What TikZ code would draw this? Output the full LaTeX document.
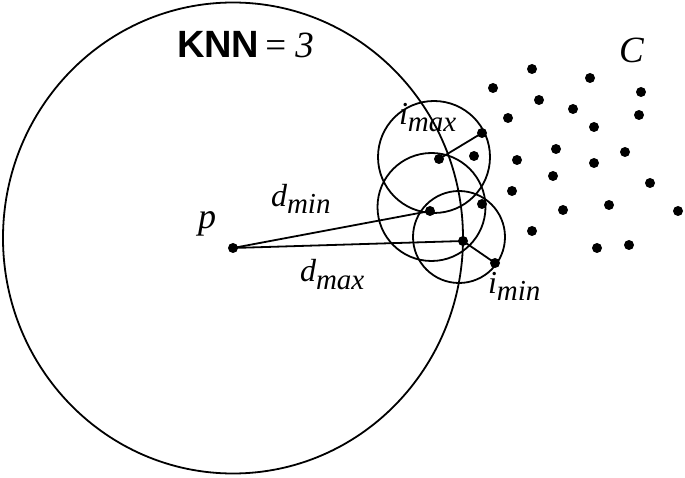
\documentclass[tikz,border=0pt]{standalone}
\usepackage{fontspec}
\setmainfont{Liberation Serif}
\newfontfamily\knnsans{Liberation Sans}
\newcommand{\sublbl}[2]{{\fontsize{32}{32}\selectfont\itshape #1}\raisebox{-7pt}{\fontsize{29}{29}\selectfont\itshape #2}}
\tikzset{
  pt/.style={circle, fill=black, draw=none, inner sep=0pt, minimum size=10pt},
  ring/.style={line width=1.8pt},
  conn/.style={line width=1.8pt},
  lbl/.style={anchor=base west, inner sep=0pt, outer sep=0pt},
}
\begin{document}
\begin{tikzpicture}[x=1pt, y=-1pt]
\useasboundingbox (0,0) rectangle (685,478);
% big neighbourhood circle
\draw[ring] (233,238) ellipse [x radius=230pt, y radius=235.5pt];
% small circles
\draw[ring] (434,157) circle [radius=56pt];
\draw[ring] (431.5,207) circle [radius=54pt];
\draw[ring] (459,237) circle [radius=46pt];
% points
\node[pt] (p) at (233,248) {};
\node[pt] (q1) at (439,159) {};
\node[pt] (q2) at (482,133) {};
\node[pt] (q3) at (474,156) {};
\node[pt] (q4) at (430,211) {};
\node[pt] (q5) at (482,204) {};
\node[pt] (q6) at (463,241) {};
\node[pt] (q7) at (495,263) {};
\node[pt] (c1) at (493,88) {};
\node[pt] (c2) at (508,118) {};
\node[pt] (c3) at (517,160) {};
\node[pt] (c4) at (512,191) {};
\node[pt] (c5) at (532,69) {};
\node[pt] (c6) at (590,78) {};
\node[pt] (c7) at (641,92) {};
\node[pt] (c8) at (539,100) {};
\node[pt] (c9) at (573,109) {};
\node[pt] (c10) at (639,115) {};
\node[pt] (c11) at (594,127) {};
\node[pt] (c12) at (556,149) {};
\node[pt] (c13) at (625,152) {};
\node[pt] (c14) at (594,163) {};
\node[pt] (c15) at (553,176) {};
\node[pt] (c16) at (650,183) {};
\node[pt] (c17) at (609,205) {};
\node[pt] (c18) at (563,210) {};
\node[pt] (c19) at (678,211) {};
\node[pt] (c20) at (532,231) {};
\node[pt] (c21) at (597,248) {};
\node[pt] (c22) at (629,245) {};
% connectors
\draw[conn] (p.center) -- (q4.center);
\draw[conn] (p.center) -- (q6.center);
\draw[conn] (q1.center) -- (q2.center);
\draw[conn] (q6.center) -- (q7.center);
% labels
\node[lbl] (knn) at (177,58) {{\knnsans\bfseries\fontsize{38}{38}\selectfont KNN}\hspace{6pt}{\fontsize{37}{37}\selectfont = \textit{3}}};
\node[lbl] (clbl) at (619,63) {\fontsize{37}{37}\selectfont\itshape C};
\node[lbl] (plbl) at (198,229) {\fontsize{36}{36}\selectfont\itshape p};
\node[lbl] (dmin) at (271,207) {\sublbl{d}{min}};
\node[lbl] (dmax) at (300,282) {\sublbl{d}{max}};
\node[lbl] (imax) at (399,125) {\sublbl{i}{max}};
\node[lbl] (imin) at (488,294) {\sublbl{i}{min}};
\end{tikzpicture}
\end{document}
